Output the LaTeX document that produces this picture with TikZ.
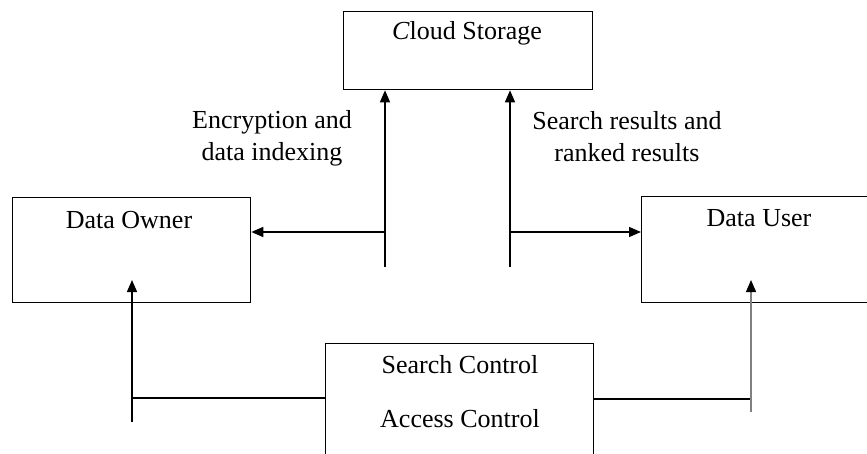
\documentclass[tikz,border=0pt]{standalone}
\usepackage{fontspec}
\setmainfont{Liberation Serif}
\usetikzlibrary{arrows.meta}
\tikzset{
  box/.style={draw, line width=1.3pt, rectangle, inner sep=0pt, anchor=north west},
  lbl/.style={inner sep=0pt, anchor=base, font=\fontsize{26}{32}\selectfont},
  conn/.style={line width=1.4pt},
  arr/.style={conn, -{Triangle[length=12pt,width=10pt]}},
}
\begin{document}
\begin{tikzpicture}[x=1pt,y=-1pt]
\useasboundingbox (0,0) rectangle (867,454);
\clip (0,0) rectangle (867,454);
% boxes
\node[box, minimum width=249pt, minimum height=78pt] (cloud) at (343,11) {};
\node[box, minimum width=238pt, minimum height=105pt] (owner) at (12,197) {};
\node[box, minimum width=260pt, minimum height=106pt] (user) at (641,196) {};
\node[box, minimum width=268pt, minimum height=140pt] (ctrl) at (325,343) {};
% texts
\node[lbl] (tcloud) at (467,40) {\textit{C}loud Storage};
\node[lbl] (towner) at (129,229) {Data Owner};
\node[lbl] (tuser) at (759,227) {Data User};
\node[lbl] (tsearch) at (460,373) {Search Control};
\node[lbl] (taccess) at (460,427) {Access Control};
\node[lbl, align=center] (tenc) at (272,161) {Encryption and\\data indexing};
\node[lbl, align=center] (tres) at (627,162) {Search results and\\ranked results};
% connectors
\coordinate (e0) at (385,267);
\coordinate (e1) at (385,232);
\coordinate (s0) at (510,267);
\coordinate (s1) at (510,232);
\draw[arr] (e0) -- (e0 |- cloud.south);
\draw[arr] (e1) -- (e1 -| owner.east);
\draw[arr] (s0) -- (s0 |- cloud.south);
\draw[arr] (s1) -- (s1 -| user.west);
\coordinate (l0) at (132,398);
\coordinate (l1) at (132,422);
\coordinate (l2) at (132,280);
\draw[conn] (l0 -| ctrl.west) -- (l0);
\draw[arr] (l1) -- (l2);
\coordinate (r0) at (751,399);
\coordinate (r1) at (751,412);
\coordinate (r2) at (751,280);
\draw[conn] (r0 -| ctrl.east) -- (r0);
\draw[conn, draw=black!50, -{Triangle[length=12pt,width=10pt,color=black]}] (r1) -- (r2);
\end{tikzpicture}
\end{document}
